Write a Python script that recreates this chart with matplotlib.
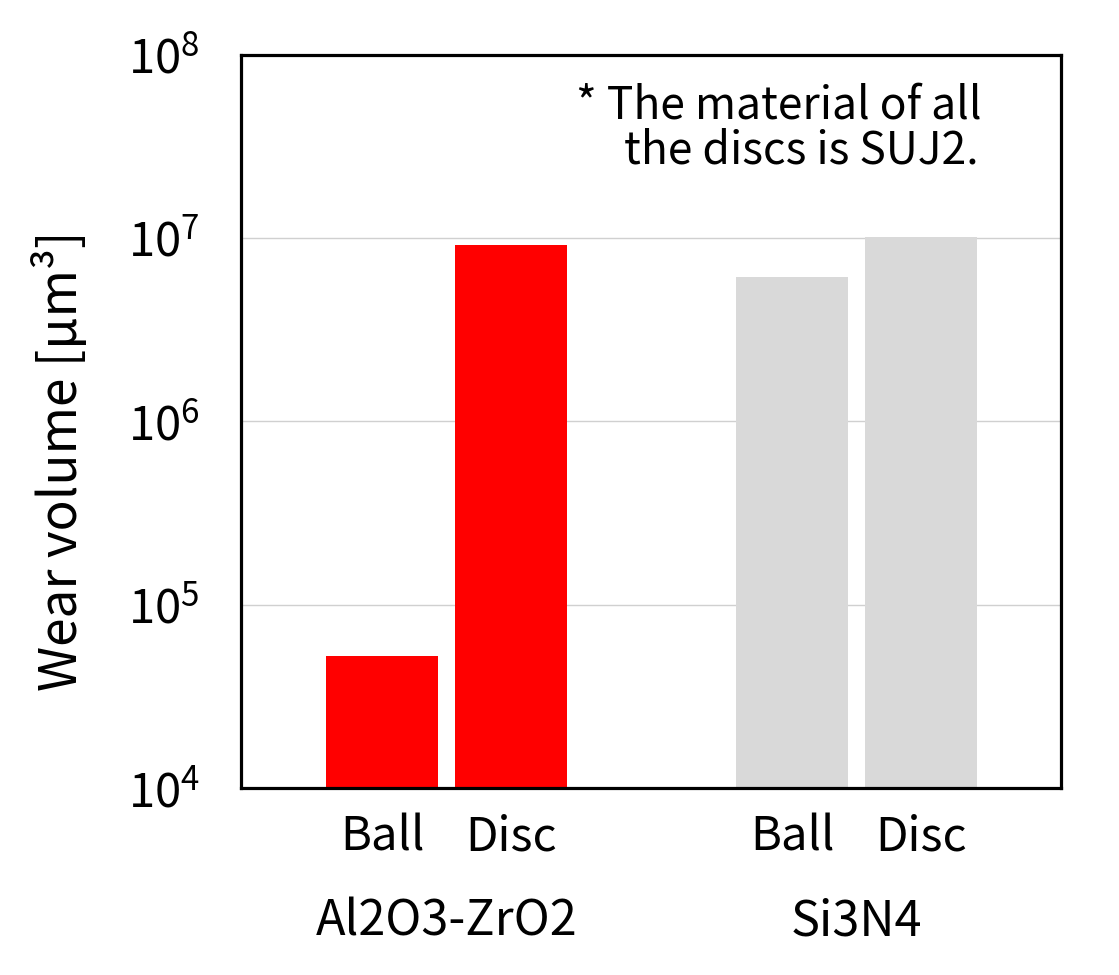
import matplotlib
matplotlib.use("Agg")
import matplotlib.pyplot as plt
import matplotlib.transforms as mtransforms
import numpy as np

plt.rcParams['font.family'] = ['Noto Sans CJK JP', 'DejaVu Sans']

# data
materials = ['Al2O3-ZrO2', 'Si3N4']
parts = ['Ball', 'Disc']
wear_ball = [5.3e4, 6.1e6]
wear_disc = [9.2e6, 1.01e7]
bar_colors = ['#FF0000', '#D9D9D9']
note_lines = ['* The material of all', 'the discs is SUJ2.']

fig = plt.figure(figsize=(11.19, 9.75), dpi=100)
ax = fig.add_axes([0.2158, 0.1913, 0.7328, 0.7528])

group_x = np.arange(len(materials)) + 0.5
width = 0.273
offset = 0.157

ax.bar(group_x - offset, wear_ball, width, color=bar_colors, zorder=2)
ax.bar(group_x + offset, wear_disc, width, color=bar_colors, zorder=2)

ax.set_yscale('log')
ax.set_ylim(1e4, 1e8)
ax.set_xlim(0, len(materials))
ax.yaxis.grid(True, which='major', color='#D0D0D0', linewidth=1.0, zorder=0)
ax.minorticks_off()
ax.set_axisbelow(True)

for s in ax.spines.values():
    s.set_linewidth(2.3)
    s.set_color('black')

ax.tick_params(axis='y', length=0, pad=30, labelsize=34)
ax.tick_params(axis='x', length=0, pad=18, labelsize=34)

tick_pos = np.concatenate([group_x - offset, group_x + offset])
tick_lab = [parts[0]] * len(materials) + [parts[1]] * len(materials)
ax.set_xticks(tick_pos)
ax.set_xticklabels(tick_lab)

trans = mtransforms.blended_transform_factory(ax.transData, ax.transAxes)
for gx, name in zip(group_x, materials):
    ax.text(gx, -0.182, name, transform=trans, ha='center', va='center', fontsize=35)

ax.set_ylabel('Wear volume [μm³]', fontsize=37)
ax.yaxis.set_label_coords(-0.186, 0.446)

ax.text(0.408, 0.913, note_lines[0], transform=ax.transAxes, fontsize=32, ha='left', va='baseline')
ax.text(0.467, 0.851, note_lines[1], transform=ax.transAxes, fontsize=32, ha='left', va='baseline')

fig.savefig('out.png', dpi=100)
